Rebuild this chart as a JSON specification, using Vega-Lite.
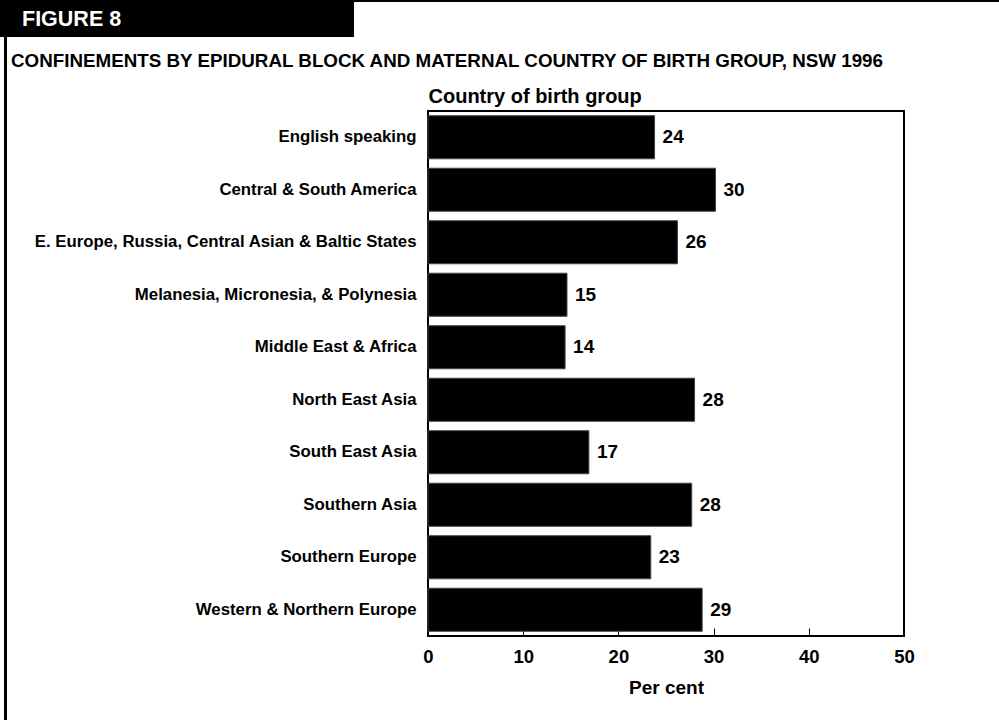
{
  "$schema": "https://vega.github.io/schema/vega-lite/v6.json",
  "background": "white",
  "padding": 0,
  "spacing": 0,
  "align": "none",
  "config": {
    "font": "Liberation Sans",
    "view": {"stroke": null},
    "title": {"font": "Liberation Sans", "fontWeight": "bold", "color": "black"}
  },
  "vconcat": [
    {
      "width": 999,
      "height": 2,
      "view": {"fill": "black", "stroke": null},
      "data": {"values": [{}]},
      "mark": {"type": "text", "text": "", "fontSize": 0},
      "encoding": {}
    },
    {
      "width": 354,
      "height": 35,
      "view": {"fill": "black", "stroke": null},
      "data": {"values": [{"label": "FIGURE 8"}]},
      "mark": {"type": "text", "align": "left", "baseline": "middle", "dx": 22, "fontSize": 21.5, "fontWeight": "bold", "color": "white"},
      "encoding": {
        "x": {"datum": 0, "type": "quantitative", "scale": {"domain": [0, 1]}, "axis": null},
        "text": {"field": "label", "type": "nominal"}
      }
    },
    {
      "spacing": 0,
      "align": "none",
      "hconcat": [
        {
          "width": 4,
          "height": 683,
          "view": {"fill": null, "stroke": null},
          "data": {"values": [{}]},
          "mark": {"type": "text", "text": "", "fontSize": 0},
          "encoding": {}
        },
        {
          "width": 3,
          "height": 683,
          "view": {"fill": "black", "stroke": null},
          "data": {"values": [{}]},
          "mark": {"type": "text", "text": "", "fontSize": 0},
          "encoding": {}
        },
        {
          "width": 3,
          "height": 683,
          "view": {"fill": null, "stroke": null},
          "data": {"values": [{}]},
          "mark": {"type": "text", "text": "", "fontSize": 0},
          "encoding": {}
        },
        {
          "spacing": 0,
          "align": "none",
          "vconcat": [
            {
              "width": 10,
              "height": 14,
              "view": {"fill": null, "stroke": null},
              "data": {"values": [{}]},
              "mark": {"type": "text", "text": "", "fontSize": 0},
              "encoding": {}
            },
            {
              "width": 476,
              "height": 525,
              "view": {"fill": "white", "stroke": "black", "strokeWidth": 2},
              "title": {"text": "CONFINEMENTS BY EPIDURAL BLOCK AND MATERNAL COUNTRY OF BIRTH GROUP, NSW 1996", "anchor": "start", "frame": "group", "dx": -417, "offset": 0, "baseline": "alphabetic", "fontSize": 18.8},
              "data": {"values": [
                {"group": "English speaking", "percent": 23.8},
                {"group": "Central & South America", "percent": 30.2},
                {"group": "E. Europe, Russia, Central Asian & Baltic States", "percent": 26.2},
                {"group": "Melanesia, Micronesia, & Polynesia", "percent": 14.6},
                {"group": "Middle East & Africa", "percent": 14.4},
                {"group": "North East Asia", "percent": 28.0},
                {"group": "South East Asia", "percent": 16.9},
                {"group": "Southern Asia", "percent": 27.7},
                {"group": "Southern Europe", "percent": 23.4},
                {"group": "Western & Northern Europe", "percent": 28.8}
              ]},
              "encoding": {
                "y": {
                  "field": "group",
                  "type": "nominal",
                  "sort": null,
                  "scale": {"paddingInner": 0.18, "paddingOuter": 0.09},
                  "axis": {
                    "title": "Country of birth group",
                    "titleAngle": 0,
                    "titleX": 0,
                    "titleY": -9,
                    "titleAlign": "left",
                    "titleBaseline": "alphabetic",
                    "titleFontSize": 20,
                    "titleFontWeight": "bold",
                    "titleColor": "black",
                    "labelFontSize": 16.8,
                    "labelFontWeight": "bold",
                    "labelColor": "black",
                    "labelPadding": 12,
                    "labelLimit": 1000,
                    "ticks": false,
                    "domain": false,
                    "grid": false
                  }
                },
                "x": {
                  "field": "percent",
                  "type": "quantitative",
                  "scale": {"domain": [0, 50], "nice": false},
                  "axis": {
                    "title": "Per cent",
                    "values": [0, 10, 20, 30, 40, 50],
                    "format": "d",
                    "grid": false,
                    "domain": false,
                    "tickSize": -8,
                    "tickColor": "black",
                    "tickWidth": 1,
                    "labelFontSize": 18.5,
                    "labelFontWeight": "bold",
                    "labelColor": "black",
                    "labelPadding": 19,
                    "labelFlush": false,
                    "titleFontSize": 19,
                    "titleFontWeight": "bold",
                    "titleColor": "black",
                    "titlePadding": 13
                  }
                }
              },
              "layer": [
                {
                  "mark": {"type": "bar", "color": "black", "stroke": "#444444", "strokeWidth": 1}
                },
                {
                  "mark": {"type": "text", "align": "left", "baseline": "middle", "dx": 8, "fontSize": 19, "fontWeight": "bold", "color": "black"},
                  "encoding": {
                    "text": {"field": "percent", "type": "quantitative", "format": ".0f"}
                  }
                }
              ]
            }
          ]
        }
      ]
    }
  ]
}
